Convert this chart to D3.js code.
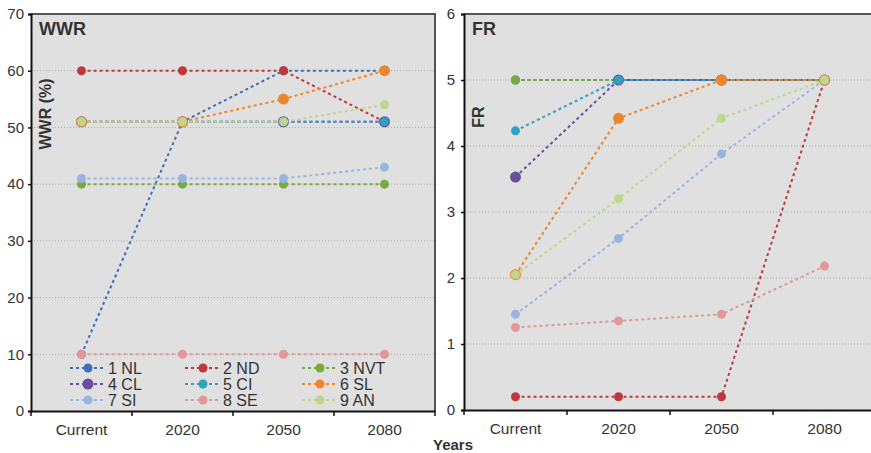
<!DOCTYPE html>
<html lang="en">
<head>
  <meta charset="UTF-8">
  <title>WWR and FR</title>
  <script src="https://d3js.org/d3.v7.min.js"></script>
  <style>
    body { margin: 0; background: white; }
    text { font-family: "Liberation Sans", Arial, sans-serif; fill: #333; }
  </style>
</head>
<body>
  <svg id="svg1" width="871" height="453"></svg>
  <script>
    // data
    const years = ["Current", "2020", "2050", "2080"];
    const seriesNames = ["1 NL", "2 ND", "3 NVT", "4 CL", "5 CI", "6 SL", "7 SI", "8 SE", "9 AN"];
    const wwrValues = [
      [10, 51, 60, 60],
      [60, 60, 60, 51],
      [40, 40, 40, 40],
      [51, 51, 51, 51],
      [51, 51, 51, 51],
      [51, 51, 55, 60],
      [41, 41, 41, 43],
      [10, 10, 10, 10],
      [51, 51, 51, 54]
    ];
    const frValues = [
      [5, 5, 5, 5],
      [0.2, 0.2, 0.2, 5],
      [5, 5, 5, 5],
      [3.53, 5, 5, 5],
      [4.23, 5, 5, 5],
      [2.05, 4.42, 5, 5],
      [1.45, 2.6, 3.88, 5],
      [1.25, 1.35, 1.45, 2.18],
      [2.05, 3.2, 4.42, 5]
    ];
    const wwrTicks = [0, 10, 20, 30, 40, 50, 60, 70];
    const frTicks = [0, 1, 2, 3, 4, 5, 6];

    // styles
    const colors = ["#3d6fb9", "#c0383c", "#7aab3c", "#6c4c9e", "#2ea0c2", "#f0862b", "#98b5e2", "#e39796", "#bdd78c"];
    const radii = [4.5, 4.5, 4.5, 5.5, 4.5, 5.5, 4.5, 4.5, 4.5];

    const svg = d3.select("svg#svg1");

    function drawPanel(opts) {
      const x = d3.scaleBand().domain(years).range([opts.left, opts.right]);
      const y = d3.scaleLinear().domain([0, opts.max]).range([opts.bottom, opts.top]);
      const g = svg.append("g");

      g.append("rect")
        .attr("x", opts.left).attr("y", opts.top)
        .attr("width", opts.right - opts.left).attr("height", opts.bottom - opts.top)
        .attr("fill", "#e0e0e0");

      // gridlines
      g.append("g").selectAll("line")
        .data(opts.ticks.slice(1, -1))
        .join("line")
        .attr("x1", opts.left).attr("x2", opts.right)
        .attr("y1", d => y(d)).attr("y2", d => y(d))
        .attr("stroke", "#a8a8a8").attr("stroke-width", 1)
        .attr("stroke-dasharray", "1,2");

      // frame top/right
      g.append("path")
        .attr("d", `M${opts.left},${opts.top}H${opts.right}V${opts.bottom}`)
        .attr("fill", "none").attr("stroke", "#555").attr("stroke-width", 2);

      // y axis
      const yAxis = g.append("g")
        .attr("transform", `translate(${opts.left},0)`)
        .call(d3.axisLeft(y).tickValues(opts.ticks).tickFormat(d3.format("d")).tickSize(3).tickPadding(opts.pad));
      yAxis.select(".domain").attr("stroke", "#111").attr("stroke-width", 2);
      yAxis.selectAll(".tick line").attr("stroke", "#111").attr("stroke-width", 1.5);
      yAxis.selectAll(".tick text").attr("font-size", 15).attr("fill", "#333")
        .attr("font-family", "Liberation Sans, Arial, sans-serif");

      // x axis
      const xAxis = g.append("g")
        .attr("transform", `translate(0,${opts.bottom})`)
        .call(d3.axisBottom(x).tickSize(0).tickPadding(13));
      xAxis.select(".domain").attr("stroke", "#111").attr("stroke-width", 2);
      xAxis.selectAll(".tick text").attr("font-size", 15.5).attr("fill", "#333")
        .attr("font-family", "Liberation Sans, Arial, sans-serif");
      g.append("g").selectAll("line")
        .data(years.concat(["end"]))
        .join("line")
        .attr("x1", (d, i) => opts.left + i * x.step())
        .attr("x2", (d, i) => opts.left + i * x.step())
        .attr("y1", opts.bottom).attr("y2", opts.bottom + 5)
        .attr("stroke", "#111").attr("stroke-width", 1.5);

      // series
      const line = d3.line()
        .x((d, i) => x(years[i]) + x.bandwidth() / 2)
        .y(d => y(d));
      opts.values.forEach((vals, s) => {
        g.append("path")
          .datum(vals)
          .attr("d", line)
          .attr("fill", "none")
          .attr("stroke", colors[s])
          .attr("stroke-width", 2)
          .attr("stroke-dasharray", "3,3");
        g.append("g").selectAll("circle")
          .data(vals)
          .join("circle")
          .attr("cx", (d, i) => x(years[i]) + x.bandwidth() / 2)
          .attr("cy", d => y(d))
          .attr("r", radii[s])
          .attr("fill", colors[s]);
      });

      // panel title
      g.append("text")
        .attr("x", opts.left + 8).attr("y", opts.top + 21)
        .attr("font-size", 18).attr("font-weight", "bold").attr("fill", "#111")
        .text(opts.title);

      // rotated axis title
      g.append("text")
        .attr("transform", `translate(${opts.left + 20},${opts.labelY}) rotate(-90)`)
        .attr("text-anchor", "middle")
        .attr("font-size", 16).attr("font-weight", "bold").attr("fill", "#111")
        .text(opts.label);

      return {x, y, g};
    }

    drawPanel({
      left: 31, right: 435, top: 14, bottom: 411, max: 70,
      ticks: wwrTicks, values: wwrValues, title: "WWR", label: "WWR (%)", labelY: 114, pad: 4
    });
    drawPanel({
      left: 464, right: 876, top: 14, bottom: 410, max: 6,
      ticks: frTicks, values: frValues, title: "FR", label: "FR", labelY: 117, pad: 6
    });

    // legend
    const legend = svg.append("g");
    const colX = [70, 185, 302];
    const rowY = [368, 384, 400];
    seriesNames.forEach((name, i) => {
      const lx = colX[i % 3];
      const ly = rowY[Math.floor(i / 3)];
      legend.append("line")
        .attr("x1", lx).attr("x2", lx + 36)
        .attr("y1", ly).attr("y2", ly)
        .attr("stroke", colors[i]).attr("stroke-width", 2)
        .attr("stroke-dasharray", "3,3");
      legend.append("circle")
        .attr("cx", lx + 18).attr("cy", ly)
        .attr("r", i === 3 ? 5.5 : 4.5)
        .attr("fill", colors[i]);
      legend.append("text")
        .attr("x", lx + 38).attr("y", ly + 6)
        .attr("font-size", 16)
        .text(name);
    });

    svg.append("text")
      .attr("x", 433).attr("y", 450)
      .attr("font-size", 15).attr("font-weight", "bold").attr("fill", "#111")
      .text("Years");
  </script>
</body>
</html>
